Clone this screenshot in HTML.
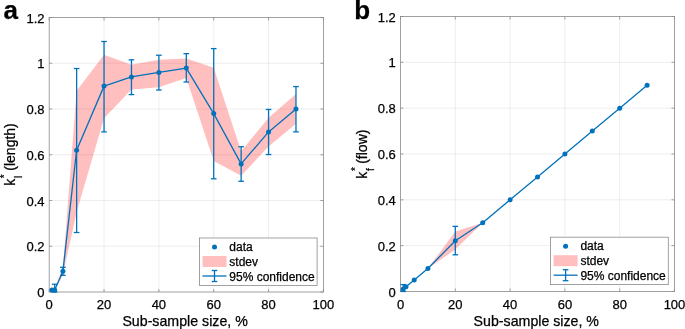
<!DOCTYPE html>
<html><head><meta charset="utf-8"><style>
html,body{margin:0;padding:0;background:#fff;}
svg{display:block;}
#w{will-change:transform;width:685px;height:329px;}
text{font-family:"Liberation Sans", sans-serif;fill:#000;stroke:#000;stroke-width:0.25px;}
</style></head><body>
<div id="w"><svg width="685" height="329" viewBox="0 0 685 329">
<rect width="685" height="329" fill="#fff"/>
<line x1="104.04" y1="17.50" x2="104.04" y2="292.00" stroke="#262626" stroke-opacity="0.1" stroke-width="0.8"/>
<line x1="158.88" y1="17.50" x2="158.88" y2="292.00" stroke="#262626" stroke-opacity="0.1" stroke-width="0.8"/>
<line x1="213.72" y1="17.50" x2="213.72" y2="292.00" stroke="#262626" stroke-opacity="0.1" stroke-width="0.8"/>
<line x1="268.56" y1="17.50" x2="268.56" y2="292.00" stroke="#262626" stroke-opacity="0.1" stroke-width="0.8"/>
<line x1="49.20" y1="246.25" x2="323.40" y2="246.25" stroke="#262626" stroke-opacity="0.1" stroke-width="0.8"/>
<line x1="49.20" y1="200.50" x2="323.40" y2="200.50" stroke="#262626" stroke-opacity="0.1" stroke-width="0.8"/>
<line x1="49.20" y1="154.75" x2="323.40" y2="154.75" stroke="#262626" stroke-opacity="0.1" stroke-width="0.8"/>
<line x1="49.20" y1="109.00" x2="323.40" y2="109.00" stroke="#262626" stroke-opacity="0.1" stroke-width="0.8"/>
<line x1="49.20" y1="63.25" x2="323.40" y2="63.25" stroke="#262626" stroke-opacity="0.1" stroke-width="0.8"/>
<polygon points="51.94,289.25 54.68,288.80 62.91,267.98 76.62,90.70 104.04,54.79 131.46,64.85 158.88,59.82 186.30,58.45 213.72,67.82 241.14,151.32 268.56,117.69 295.98,93.90 295.98,123.87 268.56,146.51 241.14,175.80 213.72,160.93 186.30,78.12 158.88,87.27 131.46,89.56 104.04,118.15 76.62,211.94 62.91,274.84 54.68,291.08 51.94,290.63" fill="#ff0000" fill-opacity="0.25" stroke="none"/>
<line x1="49.20" y1="292.00" x2="49.20" y2="289.00" stroke="#8a8a8a" stroke-width="0.8"/>
<line x1="49.20" y1="17.50" x2="49.20" y2="20.50" stroke="#8a8a8a" stroke-width="0.8"/>
<line x1="104.04" y1="292.00" x2="104.04" y2="289.00" stroke="#8a8a8a" stroke-width="0.8"/>
<line x1="104.04" y1="17.50" x2="104.04" y2="20.50" stroke="#8a8a8a" stroke-width="0.8"/>
<line x1="158.88" y1="292.00" x2="158.88" y2="289.00" stroke="#8a8a8a" stroke-width="0.8"/>
<line x1="158.88" y1="17.50" x2="158.88" y2="20.50" stroke="#8a8a8a" stroke-width="0.8"/>
<line x1="213.72" y1="292.00" x2="213.72" y2="289.00" stroke="#8a8a8a" stroke-width="0.8"/>
<line x1="213.72" y1="17.50" x2="213.72" y2="20.50" stroke="#8a8a8a" stroke-width="0.8"/>
<line x1="268.56" y1="292.00" x2="268.56" y2="289.00" stroke="#8a8a8a" stroke-width="0.8"/>
<line x1="268.56" y1="17.50" x2="268.56" y2="20.50" stroke="#8a8a8a" stroke-width="0.8"/>
<line x1="323.40" y1="292.00" x2="323.40" y2="289.00" stroke="#8a8a8a" stroke-width="0.8"/>
<line x1="323.40" y1="17.50" x2="323.40" y2="20.50" stroke="#8a8a8a" stroke-width="0.8"/>
<line x1="49.20" y1="292.00" x2="52.20" y2="292.00" stroke="#8a8a8a" stroke-width="0.8"/>
<line x1="323.40" y1="292.00" x2="320.40" y2="292.00" stroke="#8a8a8a" stroke-width="0.8"/>
<line x1="49.20" y1="246.25" x2="52.20" y2="246.25" stroke="#8a8a8a" stroke-width="0.8"/>
<line x1="323.40" y1="246.25" x2="320.40" y2="246.25" stroke="#8a8a8a" stroke-width="0.8"/>
<line x1="49.20" y1="200.50" x2="52.20" y2="200.50" stroke="#8a8a8a" stroke-width="0.8"/>
<line x1="323.40" y1="200.50" x2="320.40" y2="200.50" stroke="#8a8a8a" stroke-width="0.8"/>
<line x1="49.20" y1="154.75" x2="52.20" y2="154.75" stroke="#8a8a8a" stroke-width="0.8"/>
<line x1="323.40" y1="154.75" x2="320.40" y2="154.75" stroke="#8a8a8a" stroke-width="0.8"/>
<line x1="49.20" y1="109.00" x2="52.20" y2="109.00" stroke="#8a8a8a" stroke-width="0.8"/>
<line x1="323.40" y1="109.00" x2="320.40" y2="109.00" stroke="#8a8a8a" stroke-width="0.8"/>
<line x1="49.20" y1="63.25" x2="52.20" y2="63.25" stroke="#8a8a8a" stroke-width="0.8"/>
<line x1="323.40" y1="63.25" x2="320.40" y2="63.25" stroke="#8a8a8a" stroke-width="0.8"/>
<line x1="49.20" y1="17.50" x2="52.20" y2="17.50" stroke="#8a8a8a" stroke-width="0.8"/>
<line x1="323.40" y1="17.50" x2="320.40" y2="17.50" stroke="#8a8a8a" stroke-width="0.8"/>
<rect x="49.20" y="17.50" width="274.20" height="274.50" fill="none" stroke="#8a8a8a" stroke-width="0.8"/>
<line x1="54.68" y1="292.00" x2="54.68" y2="284.22" stroke="#0072bd" stroke-width="1.3"/>
<line x1="51.88" y1="292.00" x2="57.48" y2="292.00" stroke="#0072bd" stroke-width="1.3"/>
<line x1="51.88" y1="284.22" x2="57.48" y2="284.22" stroke="#0072bd" stroke-width="1.3"/>
<line x1="62.91" y1="275.30" x2="62.91" y2="267.30" stroke="#0072bd" stroke-width="1.3"/>
<line x1="60.11" y1="275.30" x2="65.71" y2="275.30" stroke="#0072bd" stroke-width="1.3"/>
<line x1="60.11" y1="267.30" x2="65.71" y2="267.30" stroke="#0072bd" stroke-width="1.3"/>
<line x1="76.62" y1="232.52" x2="76.62" y2="68.51" stroke="#0072bd" stroke-width="1.3"/>
<line x1="73.82" y1="232.52" x2="79.42" y2="232.52" stroke="#0072bd" stroke-width="1.3"/>
<line x1="73.82" y1="68.51" x2="79.42" y2="68.51" stroke="#0072bd" stroke-width="1.3"/>
<line x1="104.04" y1="131.88" x2="104.04" y2="41.52" stroke="#0072bd" stroke-width="1.3"/>
<line x1="101.24" y1="131.88" x2="106.84" y2="131.88" stroke="#0072bd" stroke-width="1.3"/>
<line x1="101.24" y1="41.52" x2="106.84" y2="41.52" stroke="#0072bd" stroke-width="1.3"/>
<line x1="131.46" y1="94.59" x2="131.46" y2="59.82" stroke="#0072bd" stroke-width="1.3"/>
<line x1="128.66" y1="94.59" x2="134.26" y2="94.59" stroke="#0072bd" stroke-width="1.3"/>
<line x1="128.66" y1="59.82" x2="134.26" y2="59.82" stroke="#0072bd" stroke-width="1.3"/>
<line x1="158.88" y1="90.01" x2="158.88" y2="55.24" stroke="#0072bd" stroke-width="1.3"/>
<line x1="156.08" y1="90.01" x2="161.68" y2="90.01" stroke="#0072bd" stroke-width="1.3"/>
<line x1="156.08" y1="55.24" x2="161.68" y2="55.24" stroke="#0072bd" stroke-width="1.3"/>
<line x1="186.30" y1="82.01" x2="186.30" y2="53.64" stroke="#0072bd" stroke-width="1.3"/>
<line x1="183.50" y1="82.01" x2="189.10" y2="82.01" stroke="#0072bd" stroke-width="1.3"/>
<line x1="183.50" y1="53.64" x2="189.10" y2="53.64" stroke="#0072bd" stroke-width="1.3"/>
<line x1="213.72" y1="178.77" x2="213.72" y2="48.61" stroke="#0072bd" stroke-width="1.3"/>
<line x1="210.92" y1="178.77" x2="216.52" y2="178.77" stroke="#0072bd" stroke-width="1.3"/>
<line x1="210.92" y1="48.61" x2="216.52" y2="48.61" stroke="#0072bd" stroke-width="1.3"/>
<line x1="241.14" y1="181.28" x2="241.14" y2="146.74" stroke="#0072bd" stroke-width="1.3"/>
<line x1="238.34" y1="181.28" x2="243.94" y2="181.28" stroke="#0072bd" stroke-width="1.3"/>
<line x1="238.34" y1="146.74" x2="243.94" y2="146.74" stroke="#0072bd" stroke-width="1.3"/>
<line x1="268.56" y1="154.52" x2="268.56" y2="109.46" stroke="#0072bd" stroke-width="1.3"/>
<line x1="265.76" y1="154.52" x2="271.36" y2="154.52" stroke="#0072bd" stroke-width="1.3"/>
<line x1="265.76" y1="109.46" x2="271.36" y2="109.46" stroke="#0072bd" stroke-width="1.3"/>
<line x1="295.98" y1="131.88" x2="295.98" y2="86.58" stroke="#0072bd" stroke-width="1.3"/>
<line x1="293.18" y1="131.88" x2="298.78" y2="131.88" stroke="#0072bd" stroke-width="1.3"/>
<line x1="293.18" y1="86.58" x2="298.78" y2="86.58" stroke="#0072bd" stroke-width="1.3"/>
<polyline points="51.94,289.94 54.68,289.94 62.91,271.18 76.62,150.17 104.04,86.12 131.46,76.98 158.88,72.40 186.30,68.05 213.72,113.57 241.14,163.90 268.56,131.88 295.98,109.00" fill="none" stroke="#0072bd" stroke-width="1.3" stroke-linejoin="round"/>
<circle cx="51.94" cy="289.94" r="2.5" fill="#0072bd"/>
<circle cx="54.68" cy="289.94" r="2.5" fill="#0072bd"/>
<circle cx="62.91" cy="271.18" r="2.5" fill="#0072bd"/>
<circle cx="76.62" cy="150.17" r="2.5" fill="#0072bd"/>
<circle cx="104.04" cy="86.12" r="2.5" fill="#0072bd"/>
<circle cx="131.46" cy="76.98" r="2.5" fill="#0072bd"/>
<circle cx="158.88" cy="72.40" r="2.5" fill="#0072bd"/>
<circle cx="186.30" cy="68.05" r="2.5" fill="#0072bd"/>
<circle cx="213.72" cy="113.57" r="2.5" fill="#0072bd"/>
<circle cx="241.14" cy="163.90" r="2.5" fill="#0072bd"/>
<circle cx="268.56" cy="131.88" r="2.5" fill="#0072bd"/>
<circle cx="295.98" cy="109.00" r="2.5" fill="#0072bd"/>
<text x="49.20" y="308.8" text-anchor="middle" font-size="13">0</text>
<text x="104.04" y="308.8" text-anchor="middle" font-size="13">20</text>
<text x="158.88" y="308.8" text-anchor="middle" font-size="13">40</text>
<text x="213.72" y="308.8" text-anchor="middle" font-size="13">60</text>
<text x="268.56" y="308.8" text-anchor="middle" font-size="13">80</text>
<text x="323.40" y="308.8" text-anchor="middle" font-size="13">100</text>
<text x="44.60" y="297.10" text-anchor="end" font-size="13">0</text>
<text x="44.60" y="251.35" text-anchor="end" font-size="13">0.2</text>
<text x="44.60" y="205.60" text-anchor="end" font-size="13">0.4</text>
<text x="44.60" y="159.85" text-anchor="end" font-size="13">0.6</text>
<text x="44.60" y="114.10" text-anchor="end" font-size="13">0.8</text>
<text x="44.60" y="68.35" text-anchor="end" font-size="13">1</text>
<text x="44.60" y="22.60" text-anchor="end" font-size="13">1.2</text>
<text x="185.10" y="326.0" text-anchor="middle" font-size="14.2">Sub-sample size, %</text>
<g transform="translate(14.9,185.7) rotate(-90)"><text x="0" y="0" font-size="14">k</text><text x="7.45" y="-6.5" font-size="10">*</text><text x="7.6" y="6.9" font-size="10">l</text><text x="15.0" y="0" font-size="14">(length)</text></g>
<text x="3.5" y="18.9" font-size="26" font-weight="bold">a</text>
<rect x="199.5" y="238.0" width="117.6" height="47.4" fill="#fff" stroke="#8a8a8a" stroke-width="0.8"/>
<circle cx="214.50" cy="247.00" r="2.5" fill="#0072bd"/>
<rect x="202.50" y="256.00" width="24" height="11" fill="#ffbfbf"/>
<line x1="202.50" y1="276.00" x2="226.50" y2="276.00" stroke="#0072bd" stroke-width="1.3"/>
<line x1="214.50" y1="270.50" x2="214.50" y2="281.50" stroke="#0072bd" stroke-width="1.3"/>
<line x1="211.70" y1="270.50" x2="217.30" y2="270.50" stroke="#0072bd" stroke-width="1.3"/>
<line x1="211.70" y1="281.50" x2="217.30" y2="281.50" stroke="#0072bd" stroke-width="1.3"/>
<text x="229.30" y="251.00" font-size="12">data</text>
<text x="229.30" y="266.00" font-size="12">stdev</text>
<text x="229.30" y="281.00" font-size="12">95% confidence</text>
<line x1="455.30" y1="16.50" x2="455.30" y2="291.45" stroke="#262626" stroke-opacity="0.1" stroke-width="0.8"/>
<line x1="510.10" y1="16.50" x2="510.10" y2="291.45" stroke="#262626" stroke-opacity="0.1" stroke-width="0.8"/>
<line x1="564.90" y1="16.50" x2="564.90" y2="291.45" stroke="#262626" stroke-opacity="0.1" stroke-width="0.8"/>
<line x1="619.70" y1="16.50" x2="619.70" y2="291.45" stroke="#262626" stroke-opacity="0.1" stroke-width="0.8"/>
<line x1="400.50" y1="245.62" x2="674.50" y2="245.62" stroke="#262626" stroke-opacity="0.1" stroke-width="0.8"/>
<line x1="400.50" y1="199.80" x2="674.50" y2="199.80" stroke="#262626" stroke-opacity="0.1" stroke-width="0.8"/>
<line x1="400.50" y1="153.97" x2="674.50" y2="153.97" stroke="#262626" stroke-opacity="0.1" stroke-width="0.8"/>
<line x1="400.50" y1="108.15" x2="674.50" y2="108.15" stroke="#262626" stroke-opacity="0.1" stroke-width="0.8"/>
<line x1="400.50" y1="62.32" x2="674.50" y2="62.32" stroke="#262626" stroke-opacity="0.1" stroke-width="0.8"/>
<polygon points="403.24,288.93 405.98,286.75 414.20,279.99 427.90,268.54 455.30,231.42 482.70,222.71 510.10,199.80 537.50,176.89 564.90,153.97 592.30,131.06 619.70,108.15 647.10,85.24 647.10,85.24 619.70,108.15 592.30,131.06 564.90,153.97 537.50,176.89 510.10,199.80 482.70,222.71 455.30,249.52 427.90,268.54 414.20,279.99 405.98,286.75 403.24,288.93" fill="#ff0000" fill-opacity="0.25" stroke="none"/>
<line x1="400.50" y1="291.45" x2="400.50" y2="288.45" stroke="#8a8a8a" stroke-width="0.8"/>
<line x1="400.50" y1="16.50" x2="400.50" y2="19.50" stroke="#8a8a8a" stroke-width="0.8"/>
<line x1="455.30" y1="291.45" x2="455.30" y2="288.45" stroke="#8a8a8a" stroke-width="0.8"/>
<line x1="455.30" y1="16.50" x2="455.30" y2="19.50" stroke="#8a8a8a" stroke-width="0.8"/>
<line x1="510.10" y1="291.45" x2="510.10" y2="288.45" stroke="#8a8a8a" stroke-width="0.8"/>
<line x1="510.10" y1="16.50" x2="510.10" y2="19.50" stroke="#8a8a8a" stroke-width="0.8"/>
<line x1="564.90" y1="291.45" x2="564.90" y2="288.45" stroke="#8a8a8a" stroke-width="0.8"/>
<line x1="564.90" y1="16.50" x2="564.90" y2="19.50" stroke="#8a8a8a" stroke-width="0.8"/>
<line x1="619.70" y1="291.45" x2="619.70" y2="288.45" stroke="#8a8a8a" stroke-width="0.8"/>
<line x1="619.70" y1="16.50" x2="619.70" y2="19.50" stroke="#8a8a8a" stroke-width="0.8"/>
<line x1="674.50" y1="291.45" x2="674.50" y2="288.45" stroke="#8a8a8a" stroke-width="0.8"/>
<line x1="674.50" y1="16.50" x2="674.50" y2="19.50" stroke="#8a8a8a" stroke-width="0.8"/>
<line x1="400.50" y1="291.45" x2="403.50" y2="291.45" stroke="#8a8a8a" stroke-width="0.8"/>
<line x1="674.50" y1="291.45" x2="671.50" y2="291.45" stroke="#8a8a8a" stroke-width="0.8"/>
<line x1="400.50" y1="245.62" x2="403.50" y2="245.62" stroke="#8a8a8a" stroke-width="0.8"/>
<line x1="674.50" y1="245.62" x2="671.50" y2="245.62" stroke="#8a8a8a" stroke-width="0.8"/>
<line x1="400.50" y1="199.80" x2="403.50" y2="199.80" stroke="#8a8a8a" stroke-width="0.8"/>
<line x1="674.50" y1="199.80" x2="671.50" y2="199.80" stroke="#8a8a8a" stroke-width="0.8"/>
<line x1="400.50" y1="153.97" x2="403.50" y2="153.97" stroke="#8a8a8a" stroke-width="0.8"/>
<line x1="674.50" y1="153.97" x2="671.50" y2="153.97" stroke="#8a8a8a" stroke-width="0.8"/>
<line x1="400.50" y1="108.15" x2="403.50" y2="108.15" stroke="#8a8a8a" stroke-width="0.8"/>
<line x1="674.50" y1="108.15" x2="671.50" y2="108.15" stroke="#8a8a8a" stroke-width="0.8"/>
<line x1="400.50" y1="62.32" x2="403.50" y2="62.32" stroke="#8a8a8a" stroke-width="0.8"/>
<line x1="674.50" y1="62.32" x2="671.50" y2="62.32" stroke="#8a8a8a" stroke-width="0.8"/>
<line x1="400.50" y1="16.50" x2="403.50" y2="16.50" stroke="#8a8a8a" stroke-width="0.8"/>
<line x1="674.50" y1="16.50" x2="671.50" y2="16.50" stroke="#8a8a8a" stroke-width="0.8"/>
<rect x="400.50" y="16.50" width="274.00" height="274.95" fill="none" stroke="#8a8a8a" stroke-width="0.8"/>
<line x1="403.24" y1="291.45" x2="403.24" y2="284.58" stroke="#0072bd" stroke-width="1.3"/>
<line x1="400.44" y1="291.45" x2="406.04" y2="291.45" stroke="#0072bd" stroke-width="1.3"/>
<line x1="400.44" y1="284.58" x2="406.04" y2="284.58" stroke="#0072bd" stroke-width="1.3"/>
<line x1="455.30" y1="254.79" x2="455.30" y2="226.38" stroke="#0072bd" stroke-width="1.3"/>
<line x1="452.50" y1="254.79" x2="458.10" y2="254.79" stroke="#0072bd" stroke-width="1.3"/>
<line x1="452.50" y1="226.38" x2="458.10" y2="226.38" stroke="#0072bd" stroke-width="1.3"/>
<polyline points="403.24,288.93 405.98,286.75 414.20,279.99 427.90,268.54 455.30,240.81 482.70,222.71 510.10,199.80 537.50,176.89 564.90,153.97 592.30,131.06 619.70,108.15 647.10,85.24" fill="none" stroke="#0072bd" stroke-width="1.3" stroke-linejoin="round"/>
<circle cx="403.24" cy="288.93" r="2.5" fill="#0072bd"/>
<circle cx="405.98" cy="286.75" r="2.5" fill="#0072bd"/>
<circle cx="414.20" cy="279.99" r="2.5" fill="#0072bd"/>
<circle cx="427.90" cy="268.54" r="2.5" fill="#0072bd"/>
<circle cx="455.30" cy="240.81" r="2.5" fill="#0072bd"/>
<circle cx="482.70" cy="222.71" r="2.5" fill="#0072bd"/>
<circle cx="510.10" cy="199.80" r="2.5" fill="#0072bd"/>
<circle cx="537.50" cy="176.89" r="2.5" fill="#0072bd"/>
<circle cx="564.90" cy="153.97" r="2.5" fill="#0072bd"/>
<circle cx="592.30" cy="131.06" r="2.5" fill="#0072bd"/>
<circle cx="619.70" cy="108.15" r="2.5" fill="#0072bd"/>
<circle cx="647.10" cy="85.24" r="2.5" fill="#0072bd"/>
<text x="400.50" y="308.8" text-anchor="middle" font-size="13">0</text>
<text x="455.30" y="308.8" text-anchor="middle" font-size="13">20</text>
<text x="510.10" y="308.8" text-anchor="middle" font-size="13">40</text>
<text x="564.90" y="308.8" text-anchor="middle" font-size="13">60</text>
<text x="619.70" y="308.8" text-anchor="middle" font-size="13">80</text>
<text x="674.50" y="308.8" text-anchor="middle" font-size="13">100</text>
<text x="395.80" y="296.55" text-anchor="end" font-size="13">0</text>
<text x="395.80" y="250.72" text-anchor="end" font-size="13">0.2</text>
<text x="395.80" y="204.90" text-anchor="end" font-size="13">0.4</text>
<text x="395.80" y="159.07" text-anchor="end" font-size="13">0.6</text>
<text x="395.80" y="113.25" text-anchor="end" font-size="13">0.8</text>
<text x="395.80" y="67.42" text-anchor="end" font-size="13">1</text>
<text x="395.80" y="21.60" text-anchor="end" font-size="13">1.2</text>
<text x="536.30" y="326.0" text-anchor="middle" font-size="14.2">Sub-sample size, %</text>
<g transform="translate(366.6,178.7) rotate(-90)"><text x="0" y="0" font-size="14">k</text><text x="7.6" y="-8.0" font-size="10">*</text><text x="7.65" y="6.9" font-size="10">f</text><text x="14.9" y="0" font-size="14">(flow)</text></g>
<text x="354.3" y="18.9" font-size="26" font-weight="bold">b</text>
<rect x="550.6" y="237.2" width="117.7" height="47.4" fill="#fff" stroke="#8a8a8a" stroke-width="0.8"/>
<circle cx="565.60" cy="246.20" r="2.5" fill="#0072bd"/>
<rect x="553.60" y="255.20" width="24" height="11" fill="#ffbfbf"/>
<line x1="553.60" y1="275.20" x2="577.60" y2="275.20" stroke="#0072bd" stroke-width="1.3"/>
<line x1="565.60" y1="269.70" x2="565.60" y2="280.70" stroke="#0072bd" stroke-width="1.3"/>
<line x1="562.80" y1="269.70" x2="568.40" y2="269.70" stroke="#0072bd" stroke-width="1.3"/>
<line x1="562.80" y1="280.70" x2="568.40" y2="280.70" stroke="#0072bd" stroke-width="1.3"/>
<text x="580.40" y="250.20" font-size="12">data</text>
<text x="580.40" y="265.20" font-size="12">stdev</text>
<text x="580.40" y="280.20" font-size="12">95% confidence</text>
</svg></div>
</body></html>
